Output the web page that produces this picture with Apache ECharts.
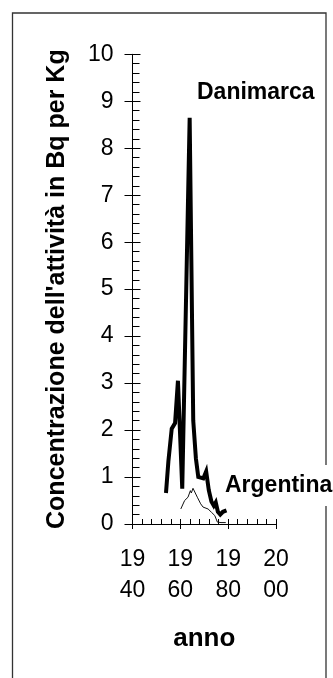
<!DOCTYPE html>
<html>
<head>
<meta charset="utf-8">
<script src="https://cdn.jsdelivr.net/npm/echarts@6/dist/echarts.min.js"></script>
<style>
html,body{margin:0;padding:0;background:#fff;}
#chart{width:333px;height:678px;}
</style>
</head>
<body>
<div id="chart"></div>
<script>
// Data
const danimarcaYears = [1954.0, 1955.0, 1956.4, 1957.8, 1959.0, 1960.8, 1963.9, 1965.4, 1966.5, 1967.5, 1969.6, 1970.8, 1971.9, 1973.0, 1974.0, 1974.8, 1975.7, 1976.7, 1977.8, 1979.3];
const danimarcaValues = [0.66, 1.33, 2.03, 2.15, 3.05, 0.75, 8.65, 2.2, 1.4, 1.0, 0.97, 1.12, 0.72, 0.48, 0.39, 0.46, 0.26, 0.2, 0.26, 0.29];
const argentinaYears = [1960.2, 1961.8, 1963.2, 1964.2, 1964.6, 1965.3, 1966.0, 1967.1, 1968.5, 1969.5, 1970.2, 1971.6, 1973.0, 1974.4, 1975.5, 1977.0, 1979.0];
const argentinaValues = [0.32, 0.5, 0.57, 0.71, 0.66, 0.76, 0.75, 0.57, 0.43, 0.36, 0.38, 0.32, 0.25, 0.18, 0.04, 0.03, 0.03];
const xTickValues = [1940, 1960, 1980, 2000];
const yTickValues = [0, 1, 2, 3, 4, 5, 6, 7, 8, 9, 10];
const seriesNames = ['Danimarca', 'Argentina'];
const xAxisTitle = 'anno';
const yAxisTitle = "Concentrazione dell'attività in Bq per Kg";

const FONT = '"Liberation Sans", Arial, sans-serif';
const pairs = (xs, ys) => xs.map((x, i) => [x, ys[i]]);

const chart = echarts.init(document.getElementById('chart'), null, {renderer: 'canvas'});

const xBase = {
  type: 'value', min: xTickValues[0], max: xTickValues[xTickValues.length - 1], interval: 20,
  position: 'bottom', splitLine: {show: false}, gridIndex: 0
};
const yBase = {
  type: 'value', min: yTickValues[0], max: yTickValues[yTickValues.length - 1], interval: 1,
  position: 'left', splitLine: {show: false}, gridIndex: 0
};

chart.setOption({
  animation: false,
  backgroundColor: '#fff',
  grid: {left: 132.5, right: 57, top: 54.3, bottom: 154},
  graphic: [{
    type: 'rect', z: 0,
    shape: {x: 12.5, y: 13, width: 313.5, height: 700},
    style: {fill: 'none', stroke: '#333', lineWidth: 1.3}
  }],
  title: [
    {text: seriesNames[0], left: 190, top: 72, padding: [9, 10, 9, 7], backgroundColor: '#fff', z: 10,
     textStyle: {fontFamily: FONT, fontSize: 23, fontWeight: 'bold', color: '#000'}},
    {text: seriesNames[1], left: 221, top: 465, padding: [9, 6, 9, 4], backgroundColor: '#fff', z: 10,
     textStyle: {fontFamily: FONT, fontSize: 23, fontWeight: 'bold', color: '#000'}}
  ],
  xAxis: [
    Object.assign({}, xBase, {
      name: xAxisTitle, nameLocation: 'middle', nameGap: 102,
      nameTextStyle: {fontFamily: FONT, fontSize: 26, fontWeight: 'bold', color: '#000'},
      axisLine: {show: true, lineStyle: {color: '#000', width: 1}},
      axisTick: {show: true, inside: false, length: 5, lineStyle: {color: '#000'}},
      axisLabel: {show: true, margin: 20, fontFamily: FONT, fontSize: 23, lineHeight: 31, color: '#000',
        formatter: v => String(v).slice(0, 2) + '\n' + String(v).slice(2)}
    }),
    Object.assign({}, xBase, {
      axisLine: {show: false},
      axisTick: {show: true, inside: true, length: 5, lineStyle: {color: '#000'}},
      minorTick: {show: true, splitNumber: 5, length: 5, lineStyle: {color: '#000', width: 1}},
      axisLabel: {show: false}
    })
  ],
  yAxis: [
    Object.assign({}, yBase, {
      name: yAxisTitle, nameLocation: 'middle', nameGap: 63, nameRotate: 90,
      nameTextStyle: {fontFamily: FONT, fontSize: 25, fontWeight: 'bold', color: '#000'},
      axisLine: {show: true, lineStyle: {color: '#000', width: 1}},
      axisTick: {show: true, inside: false, length: 8, lineStyle: {color: '#000'}},
      axisLabel: {show: true, margin: 19, fontFamily: FONT, fontSize: 23, color: '#000'}
    }),
    Object.assign({}, yBase, {
      axisLine: {show: false},
      axisTick: {show: true, inside: true, length: 8, lineStyle: {color: '#000'}},
      minorTick: {show: true, splitNumber: 5, length: 7, lineStyle: {color: '#000', width: 1}},
      axisLabel: {show: false}
    })
  ],
  series: [
    {name: seriesNames[0], type: 'line', xAxisIndex: 0, yAxisIndex: 0, data: pairs(danimarcaYears, danimarcaValues),
     showSymbol: false, symbol: 'none', lineStyle: {color: '#000', width: 4, join: 'miter'}, z: 5},
    {name: seriesNames[1], type: 'line', xAxisIndex: 0, yAxisIndex: 0, data: pairs(argentinaYears, argentinaValues),
     showSymbol: false, symbol: 'none', lineStyle: {color: '#111', width: 1}, z: 4}
  ]
});
</script>
</body>
</html>
